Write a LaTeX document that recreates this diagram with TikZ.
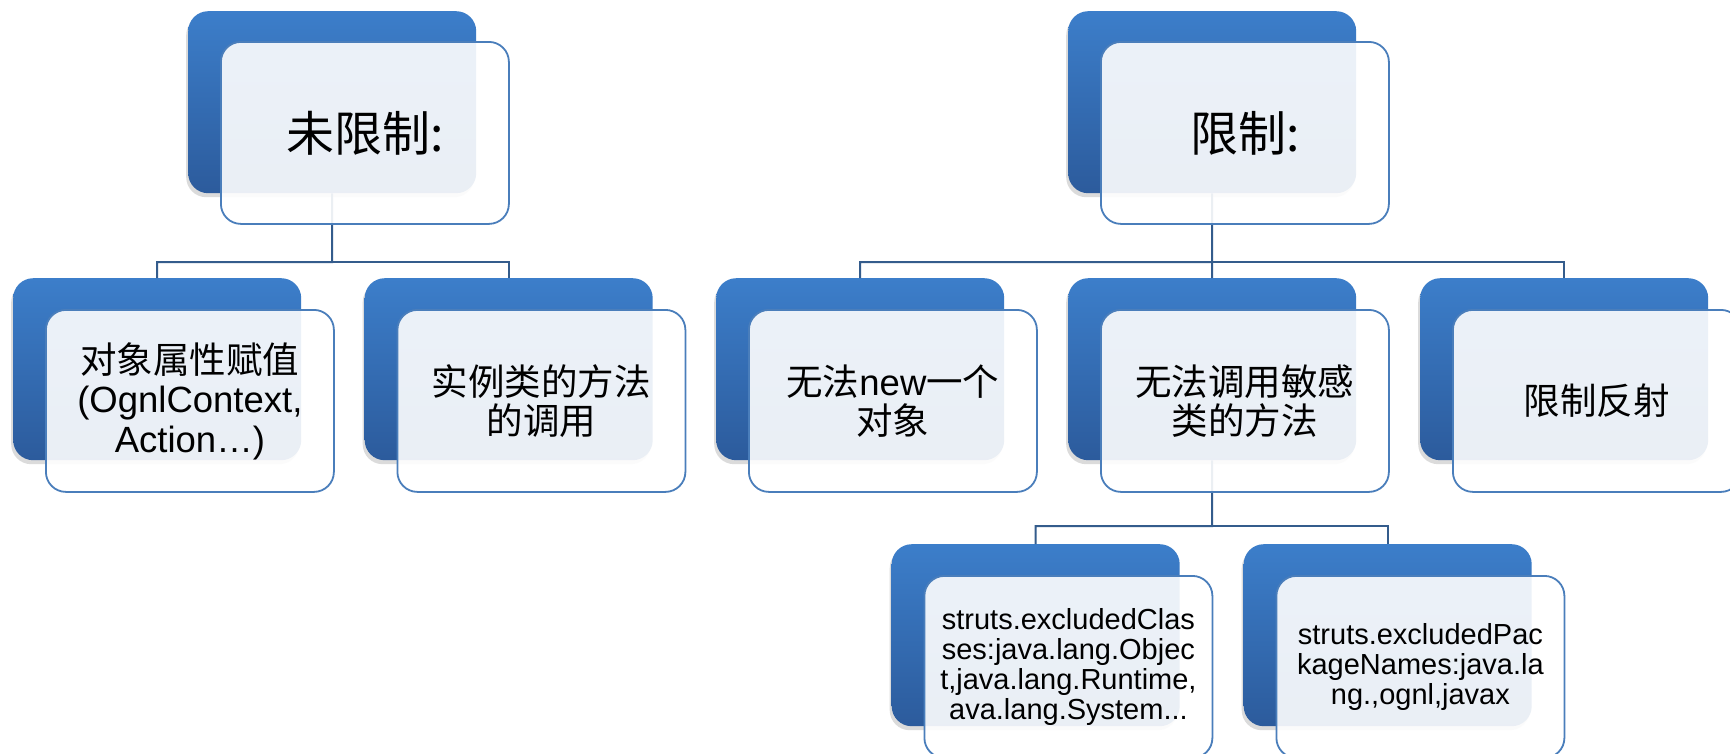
\documentclass[tikz,border=0pt]{standalone}
\usepackage{fontspec}
\setmainfont{Liberation Sans}
\newfontfamily\cjk{Noto Sans CJK SC}
\usetikzlibrary{shadows}
\definecolor{bluetop}{RGB}{60,126,202}
\definecolor{bluebot}{RGB}{44,91,156}
\definecolor{edgeblue}{RGB}{74,126,187}
\definecolor{linkblue}{RGB}{52,92,140}
\begin{document}
\begin{tikzpicture}[x=1pt,y=-1pt,
  backbox/.style={rectangle, rounded corners=20pt, minimum width=288pt,
    minimum height=182pt, inner sep=0pt, anchor=north west,
    top color=bluetop, bottom color=bluebot, draw=none,
    drop shadow={opacity=0.28, shadow xshift=-2pt, shadow yshift=-4pt}},
  frontbox/.style={rectangle, rounded corners=20pt, minimum width=288pt,
    minimum height=182pt, inner sep=0pt, anchor=north west,
    fill=white, fill opacity=0.9, text opacity=1, draw=edgeblue,
    line width=1.8pt, align=center, text=black},
  lvlone/.style={font=\fontsize{48pt}{56pt}\selectfont},
  lvltwo/.style={font=\fontsize{36.5pt}{39.5pt}\selectfont},
  lvlthree/.style={font=\fontsize{29pt}{29.8pt}\selectfont},
  link/.style={draw=linkblue, line width=2pt}]
\useasboundingbox (0,0) rectangle (1730,753);
\fill[white] (0,0) rectangle (1730,753);

% back (blue) boxes
\node[backbox] (t1b) at (188,11) {};
\node[backbox] (t2b) at (1068,11) {};
\node[backbox] (ab) at (13,278) {};
\node[backbox] (bb) at (364.5,278) {};
\node[backbox] (cb) at (716,278) {};
\node[backbox] (db) at (1068,278) {};
\node[backbox] (eb) at (1420,278) {};
\node[backbox] (fb) at (891.5,544) {};
\node[backbox] (gb) at (1243.5,544) {};

% connectors
\coordinate (j1) at (332,262);
\coordinate (j2) at (1212,262);
\coordinate (j3) at (1212,526);
\draw[link] (t1b.south) -- (j1) -| (ab.north);
\draw[link] (j1) -| (bb.north);
\draw[link] (t2b.south) -- (j2) -| (cb.north);
\draw[link] (j2) -- (db.north);
\draw[link] (j2) -| (eb.north);
\draw[link] (db.south) -- (j3) -| (fb.north);
\draw[link] (j3) -| (gb.north);

% front (text) boxes
\node[frontbox, lvlone] (t1) at (220,41) {{\cjk 未限制:}};
\node[frontbox, lvlone] (t2) at (1100,41) {{\cjk 限制:}};
\node[frontbox, lvltwo] (a) at (45,309) {{\cjk 对象属性赋值}\\(OgnlContext,\\Action…)};
\node[frontbox, lvltwo] (b) at (396.5,309) {{\cjk 实例类的方法}\\{\cjk 的调用}};
\node[frontbox, lvltwo] (c) at (748,309) {{\cjk 无法}new{\cjk 一个}\\{\cjk 对象}};
\node[frontbox, lvltwo] (d) at (1100,309) {{\cjk 无法调用敏感}\\{\cjk 类的方法}};
\node[frontbox, lvltwo] (e) at (1452,309) {{\cjk 限制反射}};
\node[frontbox, lvlthree] (f) at (923.5,575) {struts.excludedClas\\ses:java.lang.Objec\\t,java.lang.Runtime,\\ava.lang.System...};
\node[frontbox, lvlthree] (g) at (1275.5,575) {struts.excludedPac\\kageNames:java.la\\ng.,ognl,javax};
\end{tikzpicture}
\end{document}
